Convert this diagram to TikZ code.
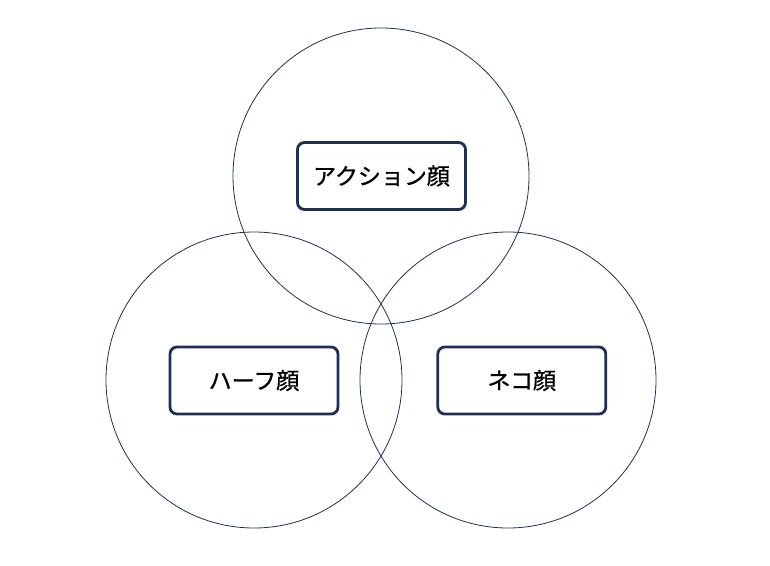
\documentclass[tikz,border=0pt]{standalone}
\usepackage{fontspec}
\newfontfamily\cjk[FakeBold=0.9]{Noto Sans CJK JP}
\usepackage{tikz}
\usetikzlibrary{positioning}
\definecolor{navy}{HTML}{1F3056}

\begin{document}
\begin{tikzpicture}[x=1pt, y=-1pt,
        ring/.style={circle, draw=navy, line width=0.8pt, minimum size=296pt, inner sep=0pt},
        facebox/.style={draw=navy, line width=2.8pt, rounded corners=7pt, fill=white, minimum width=168pt, minimum height=67pt, font=\cjk\fontsize{23}{26}\selectfont}]
        \useasboundingbox (0,0) rectangle (770,565);
        \node (topring) [ring] at (381,176) {};
        \node (leftring) [ring] at (254,380) {};
        \node (rightring) [ring] at (508,380) {};

        \node (action) [facebox] at (381.5,176) {アクション顔};
        \node (half) [facebox] at (254,380.5) {ハーフ顔};
        \node (cat) [facebox, right=97pt of half] {ネコ顔};
    \end{tikzpicture}
\end{document}
